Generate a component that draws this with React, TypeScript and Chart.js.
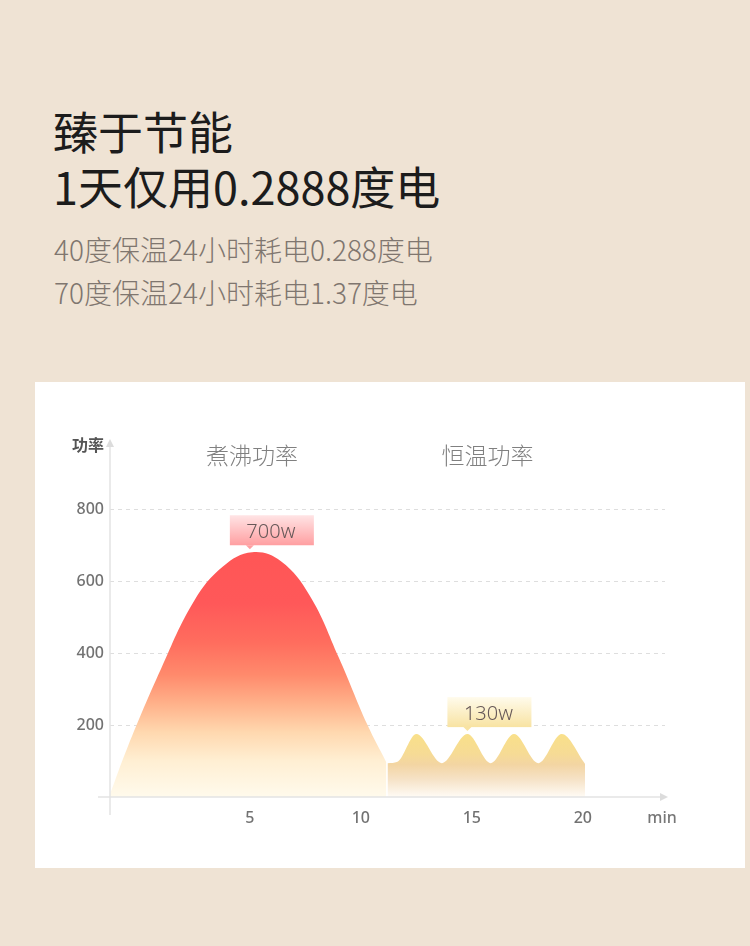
import { useEffect, useRef } from "react";
import { Chart, ChartConfiguration, Plugin, registerables } from "chart.js";

Chart.register(...registerables);

// boiling curve (minutes, watts)
const boilX = [-1.3, -0.5, 1.0, 2.5, 3.8, 5.1, 6.4, 7.7, 9.0, 10.3, 11.15];
const boilY = [8, 140, 357, 547, 642, 681, 656, 560, 389, 200, 96];

// keep-warm ripples
const warmX = [11.2, 11.65, 12.5, 13.65, 14.8, 15.85, 16.9, 18.0, 19.05, 20.1];
const warmY = [94, 98, 175, 94, 175, 94, 175, 94, 175, 92];

const xTicks = [5, 10, 15, 20];
const yTicks = [200, 400, 600, 800];

const sectionTitles = ["煮沸功率", "恒温功率"];
const sectionX = [5.1, 15.7];

const labelText = ["700w", "130w"];
const labelX = [5.0, 14.8];
const labelY = [681, 175];
const labelColors = [
  ["#FFE4E5", "#FF9FA1"],
  ["#FFFBEC", "#F8E3A2"],
];

const overlay: Plugin<"line"> = {
  id: "overlay",
  afterDatasetsDraw(chart) {
    const { ctx, chartArea } = chart;
    const xs = chart.scales.x;
    const ys = chart.scales.y;
    const { left, right, top, bottom } = chartArea;
    ctx.save();

    // axis lines with arrows
    ctx.strokeStyle = "#e3e3e3";
    ctx.lineWidth = 1.5;
    ctx.beginPath();
    ctx.moveTo(left, top + 4);
    ctx.lineTo(left, bottom + 18);
    ctx.moveTo(left - 12, bottom);
    ctx.lineTo(right - 4, bottom);
    ctx.stroke();
    ctx.fillStyle = "#dcdcdc";
    ctx.beginPath();
    ctx.moveTo(left, top - 4);
    ctx.lineTo(left - 4, top + 4);
    ctx.lineTo(left + 4, top + 4);
    ctx.closePath();
    ctx.fill();
    ctx.beginPath();
    ctx.moveTo(right + 3, bottom);
    ctx.lineTo(right - 5, bottom - 4);
    ctx.lineTo(right - 5, bottom + 4);
    ctx.closePath();
    ctx.fill();

    // axis titles
    ctx.fillStyle = "#555";
    ctx.font = "bold 16px 'Noto Sans CJK SC'";
    ctx.textAlign = "right";
    ctx.textBaseline = "middle";
    ctx.fillText("功率", left - 6, top + 2);
    ctx.fillStyle = "#777";
    ctx.font = "500 16px 'Noto Sans'";
    ctx.textAlign = "center";
    ctx.fillText("min", right - 3, bottom + 21);

    // section titles
    ctx.fillStyle = "#808080";
    ctx.font = "300 23px 'Noto Sans CJK SC'";
    sectionTitles.forEach((t, i) => {
      ctx.fillText(t, xs.getPixelForValue(sectionX[i]), top + 12);
    });

    // value tags
    labelText.forEach((t, i) => {
      const px = xs.getPixelForValue(labelX[i]);
      const py = ys.getPixelForValue(labelY[i]);
      const tip = py - 3;
      const bb = tip - 4;
      const bt = bb - 30;
      const bl = px - 20;
      const g = ctx.createLinearGradient(0, bt, 0, bb);
      g.addColorStop(0, labelColors[i][0]);
      g.addColorStop(1, labelColors[i][1]);
      ctx.fillStyle = g;
      ctx.fillRect(bl, bt, 84, 30);
      ctx.fillStyle = labelColors[i][1];
      ctx.beginPath();
      ctx.moveTo(px - 4, bb);
      ctx.lineTo(px + 4, bb);
      ctx.lineTo(px, tip);
      ctx.closePath();
      ctx.fill();
      ctx.fillStyle = "#665858";
      ctx.font = "300 20px 'Noto Sans'";
      ctx.fillText(t, bl + 41, bt + 17);
    });
    ctx.restore();
  },
};

const boilFill = (chart: Chart) => {
  const { ctx, chartArea } = chart;
  if (!chartArea) return "#FF5a5a";
  const ys = chart.scales.y;
  const top = ys.getPixelForValue(681);
  const bot = ys.getPixelForValue(0);
  const g = ctx.createLinearGradient(0, top, 0, bot);
  const stop = (v: number, c: string) => g.addColorStop((top - ys.getPixelForValue(v)) / (top - bot), c);
  stop(681, "#FF5656");
  stop(540, "#FF5859");
  stop(430, "#FF6D5E");
  stop(340, "#FF8A6C");
  stop(260, "#FFB18A");
  stop(180, "#FFD8AF");
  stop(100, "#FFEFD3");
  stop(0, "#FFFAEC");
  return g;
};

const warmFill = (chart: Chart) => {
  const { ctx, chartArea } = chart;
  if (!chartArea) return "#F6DC96";
  const ys = chart.scales.y;
  const top = ys.getPixelForValue(175);
  const bot = ys.getPixelForValue(0);
  const g = ctx.createLinearGradient(0, top, 0, bot);
  const stop = (v: number, c: string) => g.addColorStop((top - ys.getPixelForValue(v)) / (top - bot), c);
  stop(175, "#F9E08A");
  stop(120, "#F6DB95");
  stop(90, "#F3D5A3");
  stop(50, "#F6E2C6");
  stop(0, "#FFFBF5");
  return g;
};

const PowerChart = () => {
  const canvasRef = useRef<HTMLCanvasElement | null>(null);

  useEffect(() => {
    if (!canvasRef.current) return;
    const config: ChartConfiguration<"line"> = {
      type: "line",
      data: {
        datasets: [
          {
            data: warmX.map((x, i) => ({ x, y: warmY[i] })),
            fill: "origin",
            backgroundColor: (c) => warmFill(c.chart),
            borderWidth: 0,
            pointRadius: 0,
            cubicInterpolationMode: "monotone",
            order: 0,
          },
          {
            data: boilX.map((x, i) => ({ x, y: boilY[i] })),
            fill: "origin",
            backgroundColor: (c) => boilFill(c.chart),
            borderWidth: 0,
            pointRadius: 0,
            tension: 0.4,
            order: 1,
          },
        ],
      },
      options: {
        responsive: false,
        animation: false,
        layout: { padding: { top: 61, right: 80, left: 0, bottom: 0 } },
        plugins: { legend: { display: false }, tooltip: { enabled: false } },
        scales: {
          x: {
            type: "linear",
            min: -1.3,
            max: 23.7,
            afterBuildTicks: (s) => {
              s.ticks = xTicks.map((value) => ({ value }));
            },
            afterFit: (s) => {
              s.height = 71;
            },
            grid: { display: false, drawTicks: false },
            border: { display: false },
            ticks: {
              padding: 12,
              color: "#727272",
              font: { family: "'Noto Sans'", size: 16, weight: 500 },
            },
          },
          y: {
            type: "linear",
            min: 0,
            max: 985,
            afterBuildTicks: (s) => {
              s.ticks = yTicks.map((value) => ({ value }));
            },
            afterFit: (s) => {
              s.width = 75;
            },
            grid: { color: "#dedede", drawTicks: false, lineWidth: 1 },
            border: { display: false, dash: [4, 4] },
            ticks: {
              padding: 6,
              color: "#727272",
              font: { family: "'Noto Sans'", size: 16, weight: 500 },
            },
          },
        },
      },
      plugins: [overlay],
    };
    const chart = new Chart(canvasRef.current, config);
    return () => chart.destroy();
  }, []);

  return <canvas ref={canvasRef} width={710} height={486} />;
};

export default function App() {
  const cjk = "'Noto Sans CJK SC', sans-serif";
  return (
    <div
      style={{
        position: "absolute",
        left: 0,
        top: 0,
        width: 750,
        height: 946,
        background: "#EFE3D4",
        fontFamily: cjk,
        overflow: "hidden",
      }}
    >
      <div style={{ position: "absolute", left: 53, top: 107, fontSize: 45, lineHeight: "48px", color: "#1c1c1c" }}>
        臻于节能
      </div>
      <div style={{ position: "absolute", left: 53, top: 162, fontSize: 45, lineHeight: "48px", color: "#1c1c1c" }}>
        1天仅用0.2888度电
      </div>
      <div style={{ position: "absolute", left: 54, top: 234, fontSize: 28, fontWeight: 300, lineHeight: "30px", color: "#7f766f" }}>
        40度保温24小时耗电0.288度电
      </div>
      <div style={{ position: "absolute", left: 54, top: 277, fontSize: 28, fontWeight: 300, lineHeight: "30px", color: "#7f766f" }}>
        70度保温24小时耗电1.37度电
      </div>
      <div style={{ position: "absolute", left: 35, top: 382, width: 710, height: 486, background: "#fff" }}>
        <PowerChart />
      </div>
    </div>
  );
}
